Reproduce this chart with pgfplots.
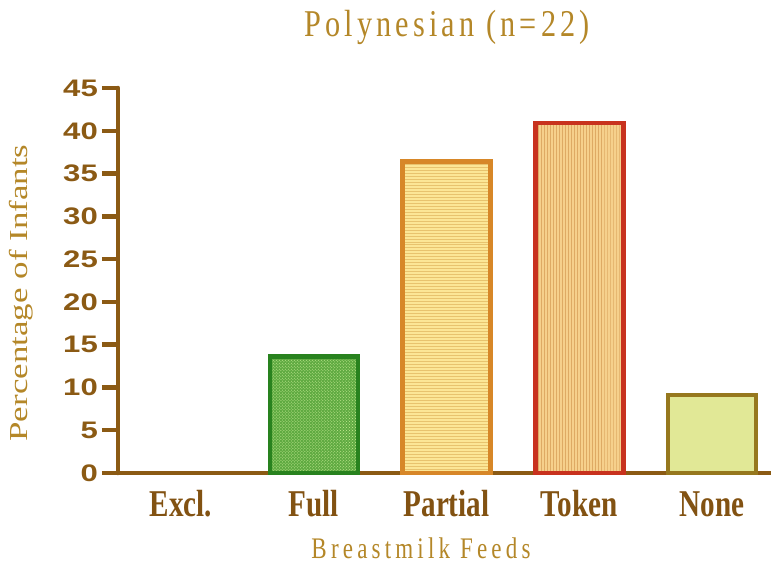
\documentclass[border=0pt]{standalone}
\usepackage{pgfplots}
\pgfplotsset{compat=1.18}
\usetikzlibrary{patterns}
\usepackage{fontspec}
\setmainfont{Liberation Serif}
\newfontfamily\titlefont[FakeStretch=0.8, LetterSpace=11]{Liberation Serif}
\newfontfamily\xlabfont[FakeStretch=0.77, LetterSpace=14]{Liberation Serif}
\newfontfamily\catfont[FakeStretch=0.77]{Liberation Serif}
\newfontfamily\ylabfont[FakeStretch=1.35]{Liberation Serif}
\newfontfamily\tickfont[FakeStretch=1.3]{Liberation Sans}
\definecolor{axbrown}{RGB}{139,90,20}
\definecolor{labgold}{RGB}{180,135,40}
\definecolor{catbrown}{RGB}{130,82,18}
\definecolor{fullB}{RGB}{40,130,30}
\definecolor{fullF}{RGB}{95,170,65}
\definecolor{fullP}{RGB}{200,238,150}
\definecolor{partB}{RGB}{215,135,40}
\definecolor{partF}{RGB}{252,230,150}
\definecolor{partP}{RGB}{232,195,110}
\definecolor{tokB}{RGB}{200,50,30}
\definecolor{tokF}{RGB}{246,208,140}
\definecolor{tokP}{RGB}{222,170,100}
\definecolor{noneB}{RGB}{150,120,30}
\definecolor{noneF}{RGB}{225,232,150}
\begin{document}
\begin{tikzpicture}
\path[use as bounding box] (-118bp,-92bp) rectangle (653bp,473bp);
\begin{axis}[
  scale only axis,
  width=653bp, height=385bp,
  xmin=-0.475, xmax=4.444,
  ymin=0, ymax=45,
  clip=false,
  axis lines=left,
  axis line style={-, line width=4.5bp, color=axbrown, line cap=round},
  xtick={0,1,2,3,4},
  xticklabels={Excl.,Full,Partial,Token,None},
  xtick style={draw=none},
  xticklabel style={anchor=base, yshift=-27bp, inner sep=0pt, text=catbrown,
    font=\catfont\bfseries\fontsize{38}{40}\selectfont},
  ytick={0,5,...,45},
  tick align=outside,
  major tick length=16bp,
  ytick style={line width=4.5bp, color=axbrown},
  /pgf/number format/assume math mode=true,
  yticklabel style={anchor=east, xshift=-4bp, inner sep=0pt, text=axbrown,
    font=\tickfont\bfseries\fontsize{24}{24}\selectfont},
  title={Polynesian (n=22)},
  title style={at={(rel axis cs:0.504,1.118)}, anchor=base, inner sep=0pt, text=labgold,
    font=\titlefont\fontsize{38}{40}\selectfont},
  xlabel={Breastmilk Feeds},
  xlabel style={at={(rel axis cs:0.464,-0.221)}, anchor=base, inner sep=0pt, text=labgold,
    font=\xlabfont\fontsize{30}{32}\selectfont},
  ylabel={Percentage of Infants},
  ylabel style={at={(rel axis cs:-0.1485,0.4675)}, anchor=center, rotate=0, inner sep=0pt, text=labgold,
    font=\ylabfont\fontsize{26}{28}\selectfont},
]
\addplot[ybar, bar width=88bp, line width=4.5bp, draw=fullB, fill=fullF,
  postaction={pattern=crosshatch dots, pattern color=fullP}] coordinates {(1,13.6)};
\addplot[ybar, bar width=88bp, line width=4.5bp, draw=partB, fill=partF,
  postaction={pattern=horizontal lines, pattern color=partP}] coordinates {(2,36.4)};
\addplot[ybar, bar width=88bp, line width=4.5bp, draw=tokB, fill=tokF,
  postaction={pattern=vertical lines, pattern color=tokP}] coordinates {(3,40.9)};
\addplot[ybar, bar width=88bp, line width=4.5bp, draw=noneB, fill=noneF] coordinates {(4,9.1)};
\end{axis}
\end{tikzpicture}
\end{document}
